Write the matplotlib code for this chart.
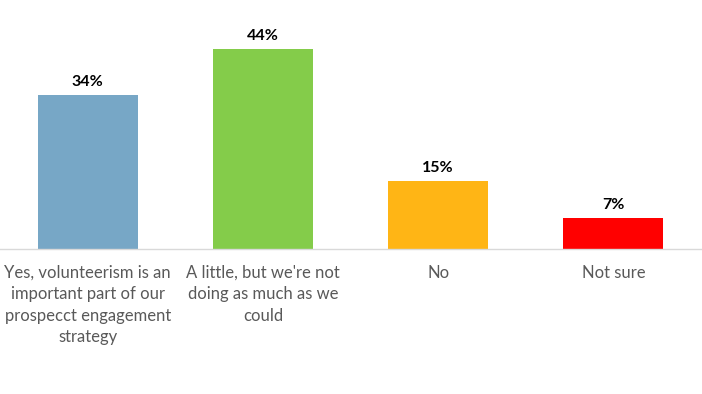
import matplotlib.pyplot as plt

categories = [
    "Yes, volunteerism is an\nimportant part of our\nprospecct engagement\nstrategy",
    "A little, but we're not\ndoing as much as we\ncould",
    "No",
    "Not sure",
]
values = [34, 44, 15, 7]
colors = ["#77A7C6", "#84CC4A", "#FFB515", "#FF0000"]

plt.rcParams["font.family"] = ["Lato", "DejaVu Sans"]

fig = plt.figure(figsize=(7.02, 3.94), dpi=100)
ax = fig.add_axes([0.0, 0.3668, 0.9986, 0.5783])

x = range(len(categories))
bars = ax.bar(x, values, width=0.57, color=colors)

for bar, v in zip(bars, values):
    ax.text(bar.get_x() + bar.get_width() / 2, v + 1.3, f"{v}%",
            ha="center", va="bottom", fontsize=11.5, fontweight="bold",
            color="black")

ax.set_xlim(-0.5, 3.5)
ax.set_ylim(0, 50)
ax.set_xticks(list(x))
ax.set_xticklabels(categories, fontsize=12, color="#595959", linespacing=1.42)
ax.tick_params(axis="x", length=0, pad=11)
ax.set_yticks([])
for side in ["top", "left", "right"]:
    ax.spines[side].set_visible(False)
ax.spines["bottom"].set_color("#D9D9D9")
ax.spines["bottom"].set_linewidth(1)

fig.savefig("out.png", dpi=100)
